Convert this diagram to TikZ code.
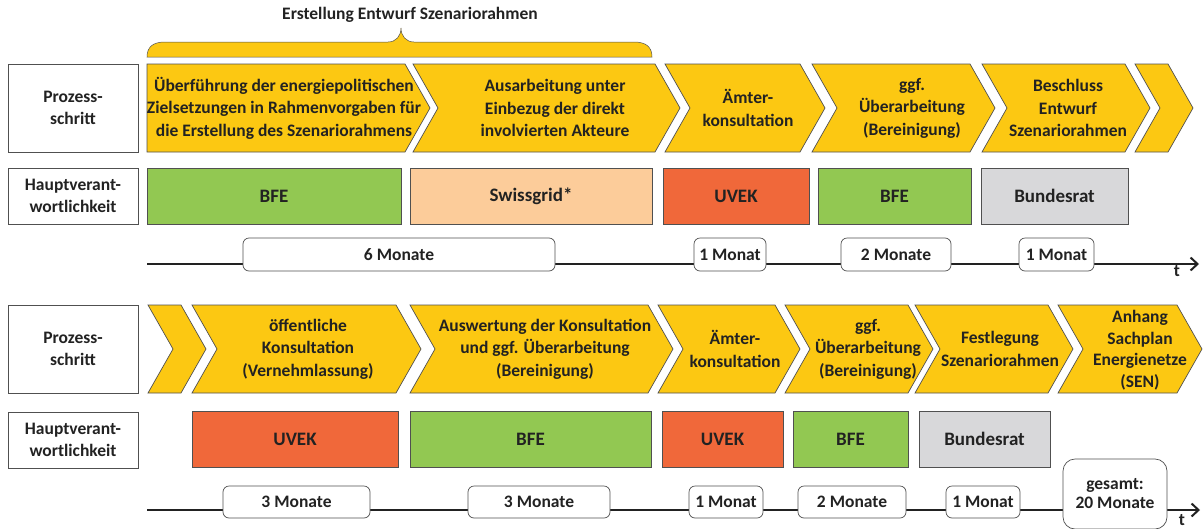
\documentclass[tikz,border=0pt]{standalone}
\usepackage{fontspec}
\setmainfont{Carlito}
\usetikzlibrary{arrows.meta}
\definecolor{gold}{RGB}{252,200,18}
\definecolor{edge}{RGB}{80,80,80}
\definecolor{ink}{RGB}{34,34,34}
\definecolor{bfegreen}{RGB}{146,200,82}
\definecolor{uvekred}{RGB}{240,104,58}
\definecolor{gridpeach}{RGB}{252,204,154}
\definecolor{ratgray}{RGB}{216,216,218}
\begin{document}
\begin{tikzpicture}[x=1pt,y=-1pt]
    \tikzset{>={Straight Barb[length=7pt,width=13pt,line width=2pt]}}
    \tikzset{
        chev/.style={fill=gold,draw=edge,line width=0.7pt},
        txt/.style={font=\bfseries\fontsize{17.5}{22.5}\selectfont,text=ink,align=center},
        lbl/.style={txt,draw=edge,fill=white,line width=0.7pt,minimum width=130,inner sep=0pt},
        resp/.style={txt,font=\bfseries\fontsize{19}{23}\selectfont,draw=edge,line width=0.7pt,minimum height=56,inner sep=0pt},
        dur/.style={txt,draw=edge,fill=white,line width=0.7pt,rounded corners=6pt,inner sep=0pt},
        axis/.style={draw=ink,line width=2pt,->}
    }
    \useasboundingbox (0,0) rectangle (1203,528);
    % title and brace
    \node[txt] (title) at (410,15) {Erstellung Entwurf Szenariorahmen};
    \filldraw[fill=gold,draw=edge,line width=0.5pt] (147,57) .. controls (147,47) and (153,42) .. (165,42) -- (388,42)
        .. controls (396,42) and (401,36) .. (401,28) .. controls (401,36) and (406,42) .. (414,42) -- (634,42)
        .. controls (646,42) and (652,47) .. (652,57) -- cycle;
    % process steps, first part
    \foreach \l/\r/\n in {147/405/0, 413/655/25, 665/800/25, 812/970/25, 982/1125/25, 1135/1168/25}
        \filldraw[chev] (\l,64) -- (\r,64) -- ({\r+25},108) -- (\r,152) -- (\l,152) -- ({\l+\n},108) -- cycle;
    \node[lbl,minimum height=88] (p1) at (73,108) {Prozess-\\schritt};
    \node[txt] (c1) at (284,108) {Überführung der energiepolitischen\\Zielsetzungen in Rahmenvorgaben für\\die Erstellung des Szenariorahmens};
    \node[txt] (c2) at (555,108) {Ausarbeitung unter\\Einbezug der direkt\\involvierten Akteure};
    \node[txt] (c3) at (748,108) {Ämter-\\konsultation};
    \node[txt] (c4) at (912,108) {ggf.\\Überarbeitung\\(Bereinigung)};
    \node[txt] (c5) at (1068,108) {Beschluss\\Entwurf\\Szenariorahmen};
    % responsibilities, first part
    \node[lbl,minimum height=56] (h1) at (73,196) {Hauptverant-\\wortlichkeit};
    \node[resp,fill=bfegreen,minimum width=254] (r1) at (274,196) {BFE};
    \node[resp,fill=gridpeach,minimum width=242] (r2) at (531,196) {Swissgrid*};
    \node[resp,fill=uvekred,minimum width=146] (r3) at (736,196) {UVEK};
    \node[resp,fill=bfegreen,minimum width=153] (r4) at (894.5,196) {BFE};
    \node[resp,fill=ratgray,minimum width=147] (r5) at (1054.5,196) {Bundesrat};
    % time line, first part
    \coordinate (s1) at (147,264);
    \coordinate (e1) at (1199,264);
    \draw[axis] (s1) -- (e1);
    \node[txt] (t1) at (1177,271) {t};
    \node[dur,minimum width=312,minimum height=33] (d1) at (399,254.5) {6 Monate};
    \node[dur,minimum width=72,minimum height=33] (d2) at (730,254.5) {1 Monat};
    \node[dur,minimum width=110,minimum height=33] (d3) at (896,254.5) {2 Monate};
    \node[dur,minimum width=75,minimum height=33] (d4) at (1056.5,254.5) {1 Monat};
    % process steps, second part
    \foreach \l/\r in {148/181, 192/396, 410/648, 658/775, 785/908, 915/1048, 1058/1177}
        \filldraw[chev] (\l,305) -- (\r,305) -- ({\r+25},349) -- (\r,393) -- (\l,393) -- ({\l+25},349) -- cycle;
    \node[lbl,minimum height=88] (p2) at (73,349) {Prozess-\\schritt};
    \node[txt] (k2) at (308,349) {öffentliche\\Konsultation\\(Vernehmlassung)};
    \node[txt] (k3) at (545,349) {Auswertung der Konsultation\\und ggf. Überarbeitung\\(Bereinigung)};
    \node[txt] (k4) at (735,349) {Ämter-\\konsultation};
    \node[txt] (k5) at (868,349) {ggf.\\Überarbeitung\\(Bereinigung)};
    \node[txt] (k6) at (1000,349) {Festlegung\\Szenariorahmen};
    \node[txt,font=\bfseries\fontsize{17.5}{21.5}\selectfont] (k7) at (1140,350) {Anhang\\Sachplan\\Energienetze\\(SEN)};
    % responsibilities, second part
    \node[lbl,minimum height=56] (h2) at (73,440) {Hauptverant-\\wortlichkeit};
    \node[resp,fill=uvekred,minimum width=206] (q1) at (295,439) {UVEK};
    \node[resp,fill=bfegreen,minimum width=241] (q2) at (530.5,439) {BFE};
    \node[resp,fill=uvekred,minimum width=121] (q3) at (722.5,439) {UVEK};
    \node[resp,fill=bfegreen,minimum width=115] (q4) at (850.5,439) {BFE};
    \node[resp,fill=ratgray,minimum width=131] (q5) at (984.5,439) {Bundesrat};
    % time line, second part
    \coordinate (s2) at (147,510);
    \coordinate (e2) at (1200,510);
    \draw[axis] (s2) -- (e2);
    \node[txt] (t2) at (1182,520) {t};
    \node[dur,minimum width=147,minimum height=32] (m1) at (296.5,502) {3 Monate};
    \node[dur,minimum width=142,minimum height=32] (m2) at (539,502) {3 Monate};
    \node[dur,minimum width=74,minimum height=32] (m3) at (726,502) {1 Monat};
    \node[dur,minimum width=108,minimum height=32] (m4) at (852,502) {2 Monate};
    \node[dur,minimum width=74,minimum height=32] (m5) at (983,502) {1 Monat};
    \node[dur,font=\bfseries\fontsize{17.5}{19}\selectfont,rounded corners=12pt,minimum width=104,minimum height=70] (sum) at (1115,494) {gesamt:\\20 Monate};
\end{tikzpicture}
\end{document}
